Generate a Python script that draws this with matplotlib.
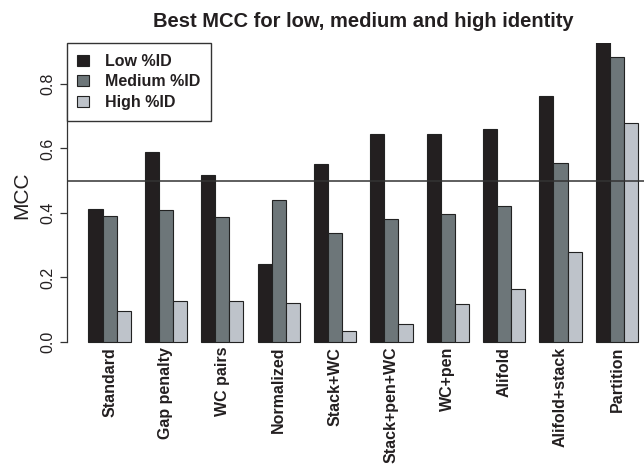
import matplotlib
matplotlib.use("Agg")
import matplotlib.pyplot as plt
import numpy as np

plt.rcParams['font.family'] = ['Liberation Sans', 'DejaVu Sans']

# data
methods = ['Standard', 'Gap penalty', 'WC pairs', 'Normalized', 'Stack+WC',
           'Stack+pen+WC', 'WC+pen', 'Alifold', 'Alifold+stack', 'Partition']
low_id = [0.412, 0.590, 0.519, 0.241, 0.552, 0.644, 0.646, 0.661, 0.762, 0.930]
medium_id = [0.390, 0.408, 0.388, 0.440, 0.339, 0.381, 0.396, 0.423, 0.556, 0.885]
high_id = [0.097, 0.127, 0.126, 0.122, 0.034, 0.057, 0.117, 0.163, 0.280, 0.678]
series_names = ['Low %ID', 'Medium %ID', 'High %ID']
colors = ['#231f20', '#6d7679', '#bec3ca']
ink = '#231f20'

W, H = 644, 465
fig = plt.figure(figsize=(W / 100, H / 100), dpi=100)
# plot region in pixels (R style, right edge runs past the image)
left, right, top, bottom = 66.5, 660, 43.3, 346.8
ax = fig.add_axes([left / W, 1 - bottom / H, (right - left) / W, (bottom - top) / H])

# R barplot beside=TRUE layout: bar width 1, one bar gap between groups
group_start = 1 + 4 * np.arange(len(methods))
for k, vals in enumerate([low_id, medium_id, high_id]):
    ax.bar(group_start + k + 0.5, vals, width=1.0, color=colors[k],
           edgecolor='#222222', linewidth=0.8, label=series_names[k])

ax.axhline(0.5, color='#333333', linewidth=1.1)

ax.set_xlim(-0.56, 41.56)
ax.set_ylim(-0.015, 0.926)

for s in ['top', 'right', 'bottom']:
    ax.spines[s].set_visible(False)
ax.spines['left'].set_bounds(0, 0.8)
ax.spines['left'].set_color('#333333')
ax.spines['left'].set_linewidth(0.9)

ax.set_yticks([0.0, 0.2, 0.4, 0.6, 0.8])
ax.set_yticklabels(['0.0', '0.2', '0.4', '0.6', '0.8'], rotation=90,
                   va='center', fontsize=11.5, color=ink)
ax.tick_params(axis='y', length=4.7, width=0.9, color='#333333', pad=3)

ax.set_xticks(group_start + 1.5)
ax.set_xticklabels(methods, rotation=90, fontsize=11.5, fontweight='bold',
                   color=ink)
ax.tick_params(axis='x', length=0, pad=0)

ax.set_ylabel('MCC', fontsize=15, color=ink, labelpad=7)

fig.text((left + right) / 2 / W, 1 - 27 / H,
         'Best MCC for low, medium and high identity',
         ha='center', va='baseline', fontsize=14.5, fontweight='bold', color=ink)

leg = ax.legend(loc='upper left', bbox_to_anchor=(0, 1), borderaxespad=0,
                prop={'weight': 'bold', 'size': 11.5},
                handlelength=0.75, handleheight=0.7, handletextpad=0.95,
                labelspacing=0.33, borderpad=0.68, fancybox=False,
                framealpha=1, edgecolor='#333333')
leg.get_frame().set_linewidth(1.0)
for t in leg.get_texts():
    t.set_color(ink)

fig.savefig('out.png', dpi=100)
